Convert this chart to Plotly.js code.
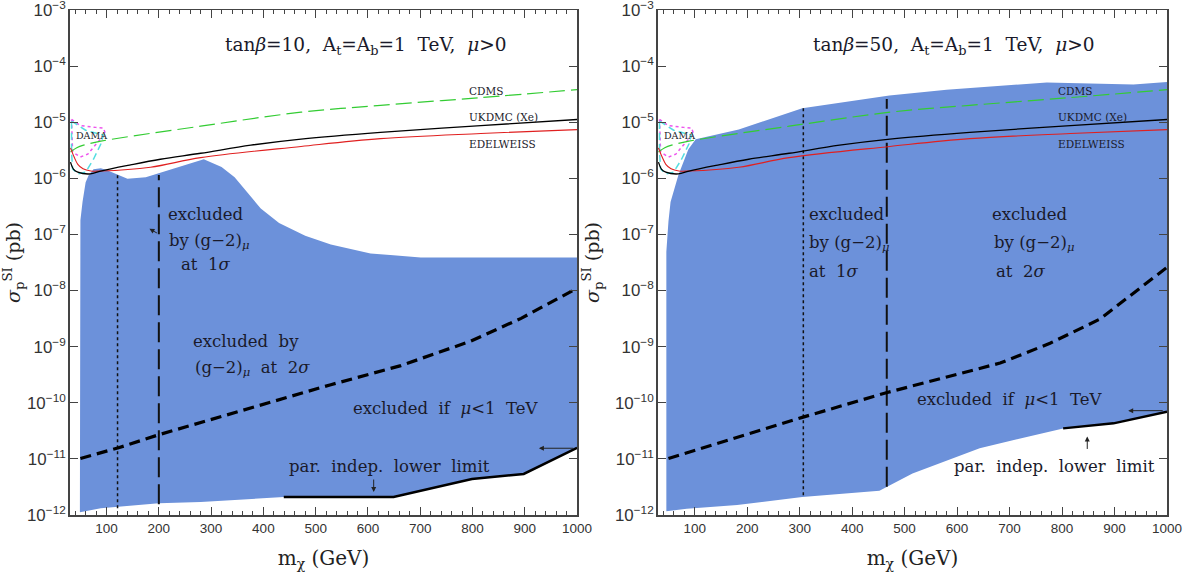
<!DOCTYPE html>
<html>
<head>
<meta charset="utf-8">
<script src="https://cdn.plot.ly/plotly-3.0.1.min.js"></script>
<style>html,body{margin:0;padding:0;background:#fff;}#chart{width:1190px;height:579px;}</style>
</head>
<body>
<div id="chart"></div>
<script>
// ---------- shared experimental limits (GeV, pb) ----------
const cdmsMass   = [31, 43, 56, 89, 280, 472, 624, 816, 1000];
const cdmsSigma  = [2.95e-6, 3.5e-6, 3.9e-6, 4.6e-6, 8.5e-6, 1.51e-5, 2.0e-5, 2.75e-5, 3.8e-5];
const ukdmcMass  = [31, 37, 45, 69, 89, 146, 203, 280, 376, 472, 624, 816, 1000];
const ukdmcSigma = [1.95e-6, 1.45e-6, 1.29e-6, 1.20e-6, 1.35e-6, 1.74e-6, 2.19e-6, 2.8e-6, 3.9e-6, 5.0e-6, 6.6e-6, 8.7e-6, 1.12e-5];
const edelMass   = [31, 38, 45, 55, 70, 89, 184, 280, 472, 624, 816, 1000];
const edelSigma  = [3.5e-6, 2.4e-6, 1.78e-6, 1.48e-6, 1.35e-6, 1.35e-6, 1.58e-6, 2.34e-6, 3.7e-6, 5.1e-6, 6.3e-6, 7.4e-6];
const damaDotMass   = [33, 50, 79, 94, 98, 83, 64, 50, 35, 33];
const damaDotSigma  = [1.12e-5, 8.7e-6, 8.1e-6, 7.9e-6, 6.2e-6, 4.4e-6, 2.7e-6, 2.4e-6, 2.95e-6, 1.12e-5];
const damaDashMass  = [33, 60, 94, 89, 75, 60, 45, 35, 33, 33];
const damaDashSigma = [1.05e-5, 7.2e-6, 5.9e-6, 4.1e-6, 2.19e-6, 1.29e-6, 1.20e-6, 1.48e-6, 2.95e-6, 1.05e-5];

// ---------- left panel: tan(beta)=10 ----------
const leftRegionMass  = [49, 49, 50, 54, 60, 66, 75, 89, 100, 140, 175, 286, 320, 345, 370, 395, 430, 480, 529, 605, 701, 1000,
                         1000, 898, 799, 649, 439, 337, 280, 200, 89, 49];
const leftRegionSigma = [1.12e-12, 2.5e-8, 1.8e-7, 3.8e-7, 8.5e-7, 1.15e-6, 1.45e-6, 1.51e-6, 1.41e-6, 9.8e-7, 1.05e-6, 2.19e-6, 1.6e-6, 1.05e-6, 5.5e-7, 2.9e-7, 1.6e-7, 9.5e-8, 6.6e-8, 4.6e-8, 3.9e-8, 3.9e-8,
                         1.58e-11, 5.4e-12, 4.4e-12, 2.1e-12, 2.1e-12, 1.82e-12, 1.70e-12, 1.62e-12, 1.32e-12, 1.12e-12];
const leftMuMass   = [50, 123, 200, 376, 529, 663, 797, 893, 1000];
const leftMuSigma  = [1.02e-11, 1.58e-11, 2.7e-11, 8.1e-11, 2.1e-10, 4.6e-10, 1.26e-9, 3.2e-9, 1.1e-8];
const leftLowMass  = [439, 649, 799, 898, 1000];
const leftLowSigma = [2.1e-12, 2.1e-12, 4.4e-12, 5.4e-12, 1.58e-11];
const leftOneSigMass  = [121, 121];
const leftOneSigSigma = [1.32e-12, 1.15e-6];
const leftTwoSigMass  = [200, 200];
const leftTwoSigSigma = [1.55e-12, 1.15e-6];

// ---------- right panel: tan(beta)=50 ----------
const rightRegionMass  = [46, 46, 50, 54, 69, 88, 102, 184, 305, 471, 580, 771, 936, 1000,
                          1000, 898, 802, 643, 515, 465, 452, 305, 181, 85, 46];
const rightRegionSigma = [1.17e-12, 4.9e-8, 1.70e-7, 3.8e-7, 1.15e-6, 3.3e-6, 5.0e-6, 7.4e-6, 1.78e-5, 3.0e-5, 3.8e-5, 5.1e-5, 4.7e-5, 5.2e-5,
                          6.9e-11, 4.3e-11, 3.5e-11, 1.55e-11, 5.5e-12, 3.2e-12, 2.7e-12, 2.1e-12, 1.51e-12, 1.29e-12, 1.17e-12];
const rightMuMass   = [50, 305, 465, 586, 682, 777, 872, 1000];
const rightMuSigma  = [1.02e-11, 5.5e-11, 1.51e-10, 3.0e-10, 5.1e-10, 1.15e-9, 3.1e-9, 2.6e-8];
const rightLowMass  = [802, 898, 1000];
const rightLowSigma = [3.5e-11, 4.3e-11, 6.9e-11];
const rightOneSigMass  = [307, 307];
const rightOneSigSigma = [2.24e-12, 1.78e-5];
const rightTwoSigMass  = [466, 466];
const rightTwoSigSigma = [3.2e-12, 2.6e-5];

const xTickVals = [100, 200, 300, 400, 500, 600, 700, 800, 900, 1000];
const yMinorTickVals = [];
for (let e = -12; e < -3; e++) for (let k = 2; k <= 9; k++) yMinorTickVals.push(k * Math.pow(10, e));

const BLUE = 'rgb(108,145,218)';
function tr(x, y, ax, line, extra) {
  return Object.assign({x: x, y: y, xaxis: 'x' + ax, yaxis: 'y' + ax, mode: 'lines', line: line, hoverinfo: 'skip'}, extra || {});
}
function panel(ax, reg, mu, low, one, two) {
  return [
    tr(reg[0], reg[1], ax, {width: 0, color: BLUE}, {fill: 'toself', fillcolor: BLUE}),
    tr(one[0], one[1], ax, {color: '#111', width: 1.5, dash: 'dot'}),
    tr(two[0], two[1], ax, {color: '#111', width: 2, dash: '20px,7px'}),
    tr(mu[0], mu[1], ax, {color: '#000', width: 3.2, dash: '11px,6px'}),
    tr(low[0], low[1], ax, {color: '#000', width: 2.5}),
    tr(damaDotMass, damaDotSigma, ax, {color: '#ee55ee', width: 1.5, dash: 'dot'}),
    tr(damaDashMass, damaDashSigma, ax, {color: '#55dde0', width: 1.5, dash: '7px,4px'}),
    tr(cdmsMass, cdmsSigma, ax, {color: '#33cc33', width: 1.2, dash: '16px,6px', shape: 'spline'}),
    tr(edelMass, edelSigma, ax, {color: '#e02020', width: 1.1, shape: 'spline'}),
    tr(ukdmcMass, ukdmcSigma, ax, {color: '#000', width: 1.3, shape: 'spline'})
  ];
}
const data = [].concat(
  panel('', [leftRegionMass, leftRegionSigma], [leftMuMass, leftMuSigma], [leftLowMass, leftLowSigma],
        [leftOneSigMass, leftOneSigSigma], [leftTwoSigMass, leftTwoSigSigma]),
  panel('2', [rightRegionMass, rightRegionSigma], [rightMuMass, rightMuSigma], [rightLowMass, rightLowSigma],
        [rightOneSigMass, rightOneSigSigma], [rightTwoSigMass, rightTwoSigSigma])
);

const SERIF = 'DejaVu Serif, Liberation Serif, serif';
const tickFont = {family: 'Liberation Sans, Arial, sans-serif', size: 13.5, color: '#333'};
const YDOM = [0.1105, 0.9827];
function xax(dom, anchor) {
  return {domain: dom, anchor: anchor, range: [30, 1000], tickvals: xTickVals, ticks: 'inside', ticklen: 8,
    tickcolor: '#444', showline: true, linecolor: '#444', linewidth: 1.5, mirror: 'allticks', showgrid: false,
    zeroline: false, tickfont: tickFont, automargin: false, ticklabeloverflow: 'allow',
    minor: {dtick: 20, tick0: 0, ticks: 'inside', ticklen: 4, tickcolor: '#444', showgrid: false},
    title: {text: 'm<sub>χ</sub> (GeV)', font: {family: SERIF, size: 20, color: '#222'}, standoff: 16}};
}
function yax(anchor) {
  return {domain: YDOM, anchor: anchor, type: 'log', range: [-12, -3], dtick: 1, exponentformat: 'power',
    ticks: 'inside', ticklen: 8, tickcolor: '#444', showline: true, linecolor: '#444', linewidth: 1.5, mirror: 'allticks',
    showgrid: false, zeroline: false, tickfont: tickFont, automargin: false, ticklabeloverflow: 'allow',
    title: {text: '<i>σ</i><sub>p</sub><sup>SI</sup> (pb)', font: {family: SERIF, size: 19, color: '#222'}, standoff: 10}};
}
function yMinor(anchor, over) {
  return {domain: YDOM, anchor: anchor, overlaying: over, type: 'log', range: [-12, -3], tickvals: yMinorTickVals,
    ticks: 'inside', ticklen: 4, tickcolor: '#444', showticklabels: false, showline: false, mirror: 'allticks',
    showgrid: false, zeroline: false, automargin: false};
}

function note(ax, x, y, text, size, extra) {
  return Object.assign({xref: 'x' + ax, yref: 'y' + ax, x: x, y: y, text: text, showarrow: false,
    xanchor: 'left', yanchor: 'middle', font: {family: SERIF, size: size, color: '#1a1a2a'}}, extra || {});
}
function arrow(ax, x, y, dx, dy) {
  return {xref: 'x' + ax, yref: 'y' + ax, x: x, y: y, ax: dx, ay: dy, text: '', showarrow: true,
    arrowhead: 2, arrowsize: 1, arrowwidth: 1, arrowcolor: '#222'};
}
const annotations = [
  note('', 322, -3.64, 'tan<i>β</i>=10,  A<sub>t</sub>=A<sub>b</sub>=1  TeV,  <i>μ</i>&gt;0', 18.5),
  note('', 789, -4.45, 'CDMS', 10.5),
  note('', 789, -4.90, 'UKDMC (Xe)', 10.5),
  note('', 789, -5.39, 'EDELWEISS', 10.5),
  note('', 37, -5.23, 'DAMA', 9.5),
  note('', 213, -6.65, 'excluded', 16.5),
  note('', 215, -7.13, 'by (g−2)<sub><i>μ</i></sub>', 16.5),
  note('', 238, -7.54, 'at  1<i>σ</i>', 16.5),
  note('', 261, -8.90, 'excluded  by', 16.5),
  note('', 265, -9.38, '(g−2)<sub><i>μ</i></sub>  at  2<i>σ</i>', 16.5),
  note('', 567, -10.10, 'excluded  if  <i>μ</i>&lt;1  TeV', 16.5),
  note('', 446, -11.13, 'par.  indep.  lower  limit', 16.5),
  arrow('', 611, -11.59, 0, -14),
  arrow('', 927, -10.81, 36, 0),
  arrow('', 182, -6.90, 9, 5),

  note('2', 322, -3.64, 'tan<i>β</i>=50,  A<sub>t</sub>=A<sub>b</sub>=1  TeV,  <i>μ</i>&gt;0', 18.5),
  note('2', 789, -4.45, 'CDMS', 10.5),
  note('2', 789, -4.90, 'UKDMC (Xe)', 10.5),
  note('2', 789, -5.39, 'EDELWEISS', 10.5),
  note('2', 37, -5.23, 'DAMA', 9.5),
  note('2', 314, -6.65, 'excluded', 16.5),
  note('2', 314, -7.16, 'by (g−2)<sub><i>μ</i></sub>', 16.5),
  note('2', 314, -7.66, 'at  1<i>σ</i>', 16.5),
  note('2', 662, -6.65, 'excluded', 16.5),
  note('2', 666, -7.16, 'by (g−2)<sub><i>μ</i></sub>', 16.5),
  note('2', 670, -7.66, 'at  2<i>σ</i>', 16.5),
  note('2', 520, -9.95, 'excluded  if  <i>μ</i>&lt;1  TeV', 16.5),
  note('2', 590, -11.13, 'par.  indep.  lower  limit', 16.5),
  arrow('2', 848, -10.60, 0, 14),
  arrow('2', 926, -10.14, 36, 0)
];

const layout = {
  width: 1190, height: 579, margin: {l: 0, r: 0, t: 0, b: 0},
  paper_bgcolor: '#fff', plot_bgcolor: 'rgba(0,0,0,0)', showlegend: false,
  xaxis: xax([0.0588, 0.4849], 'y'),
  yaxis: yax('x'),
  xaxis2: xax([0.5529, 0.9807], 'y2'),
  yaxis2: yax('x2'),
  yaxis3: yMinor('x', 'y'),
  yaxis4: yMinor('x2', 'y2'),
  annotations: annotations
};
Plotly.newPlot('chart', data, layout, {staticPlot: true, displayModeBar: false});
</script>
</body>
</html>
